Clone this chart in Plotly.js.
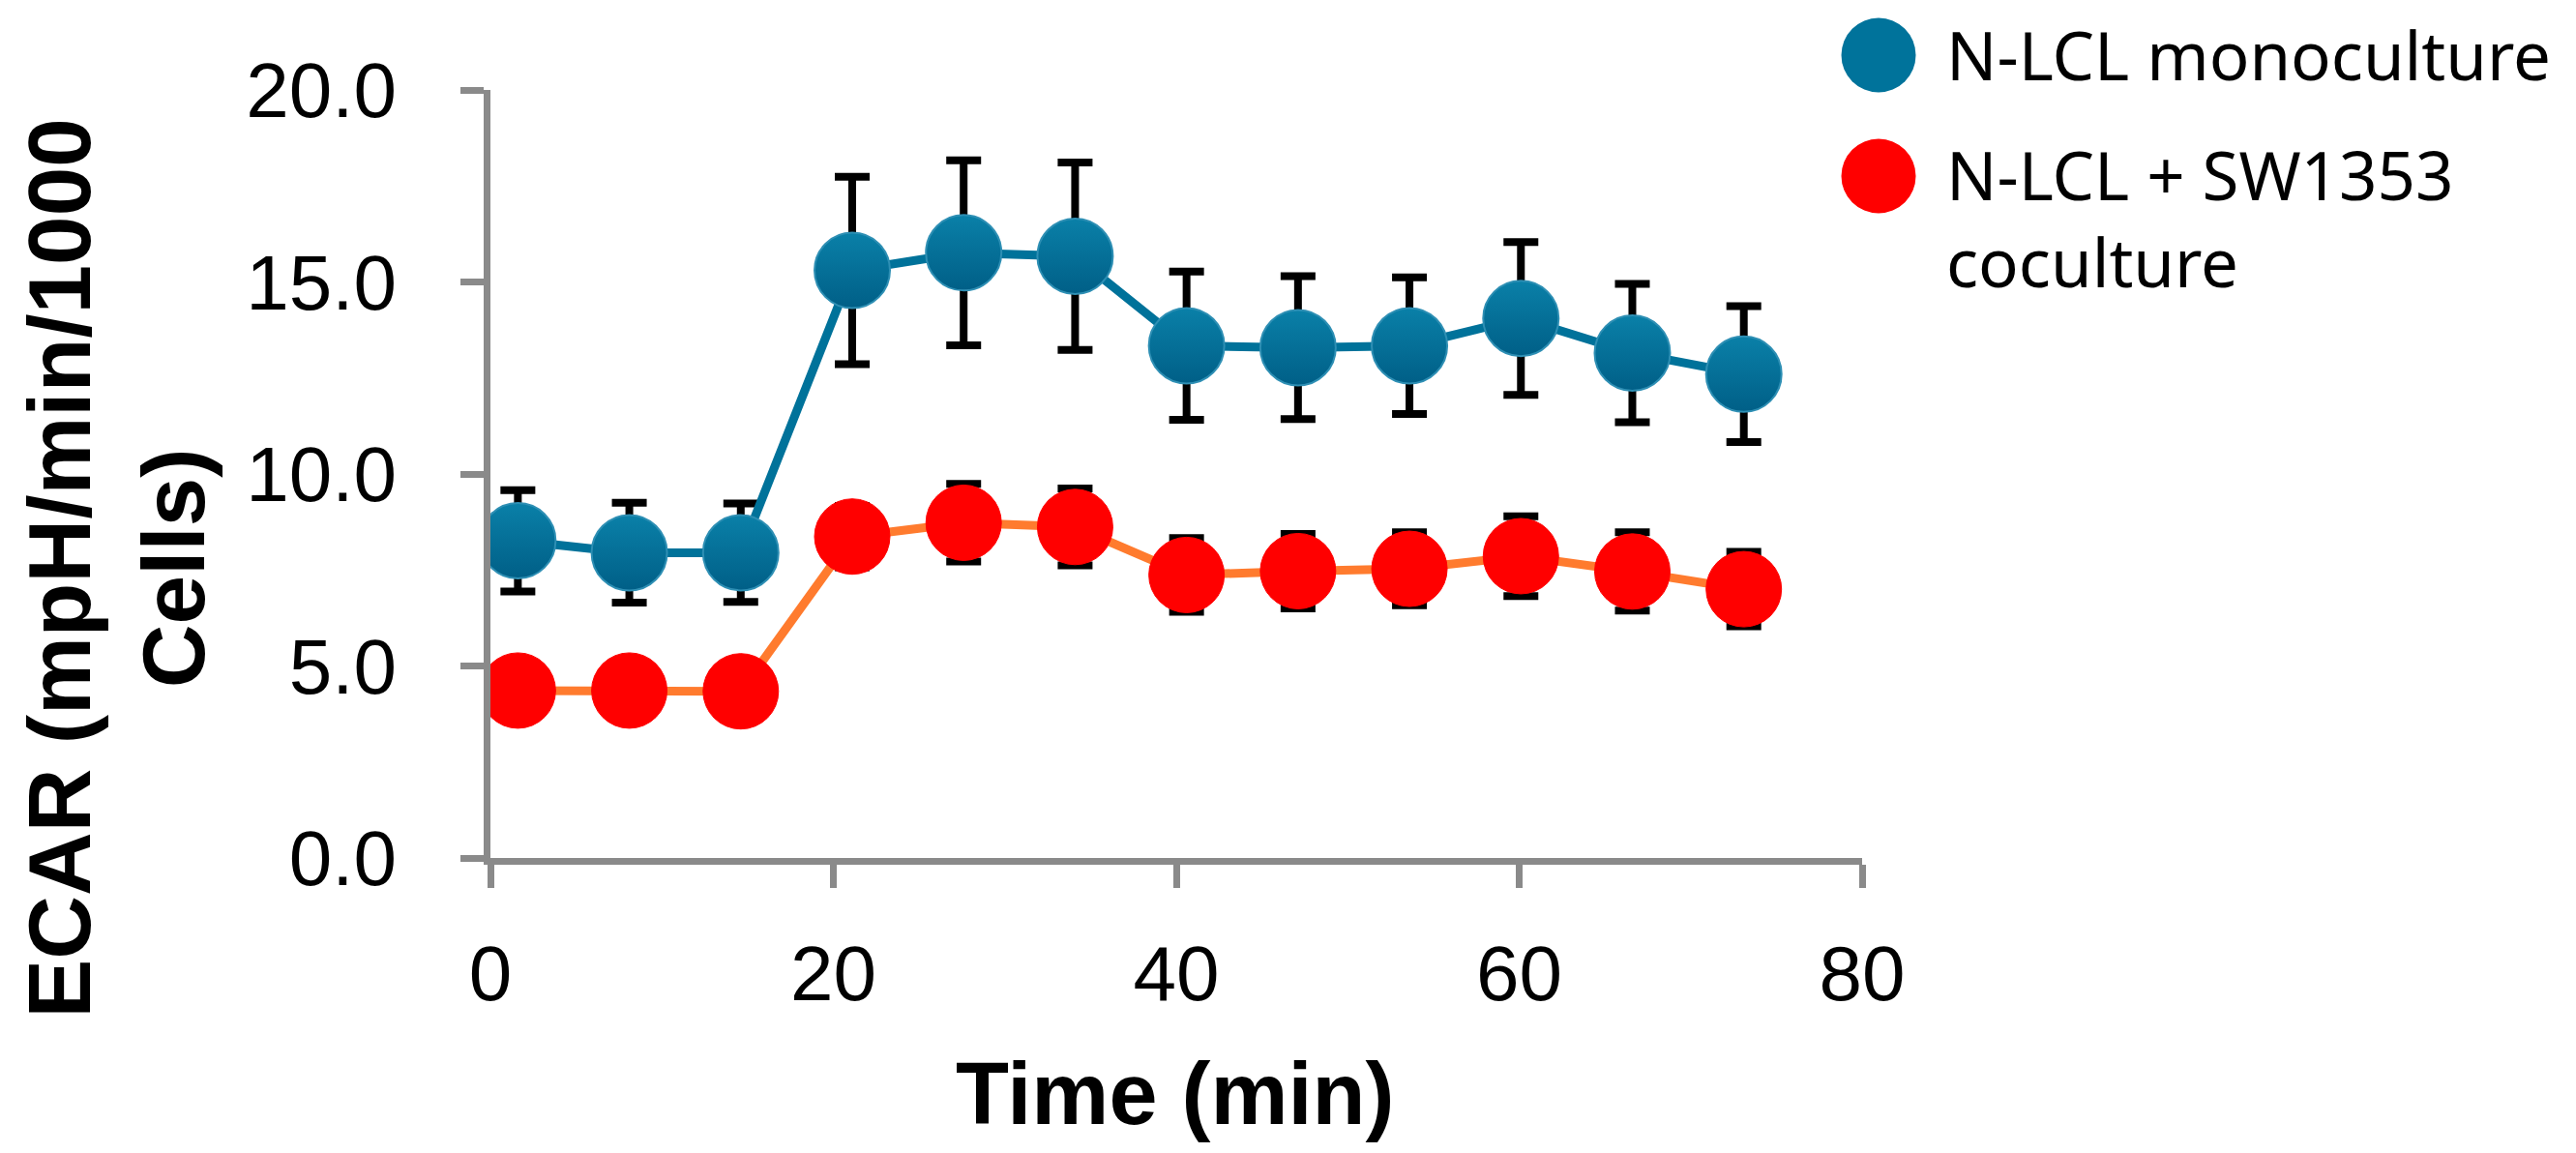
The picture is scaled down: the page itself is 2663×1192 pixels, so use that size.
<!DOCTYPE html>
<html>
<head>
<meta charset="utf-8">
<script src="https://cdn.plot.ly/plotly-3.0.1.min.js"></script>
<style>
  html, body { margin: 0; padding: 0; background: #fff; }
  #plot { width: 2663px; height: 1192px; }
</style>
</head>
<body>
<div id="plot"></div>
<script>
// values (ECAR, mpH/min/1000 cells)
var timeMin = [1.6, 8.1, 14.6, 21.1, 27.6, 34.1, 40.6, 47.1, 53.6, 60.1, 66.6, 73.1];
var monoMean = [8.26, 7.95, 7.95, 15.30, 15.76, 15.67, 13.34, 13.29, 13.34, 14.05, 13.15, 12.60];
var monoErr = [1.32, 1.30, 1.28, 2.44, 2.41, 2.44, 1.93, 1.86, 1.78, 1.99, 1.80, 1.77];
var coMean = [4.36, 4.36, 4.34, 8.37, 8.73, 8.62, 7.37, 7.47, 7.53, 7.86, 7.46, 7.00];
var coErr = [0.30, 0.30, 0.30, 0.80, 1.01, 1.00, 0.96, 0.97, 0.95, 1.04, 1.02, 0.97];

var seriesNames = ['N-LCL monoculture', 'N-LCL + SW1353<br>coculture'];
var yTicks = [0, 5, 10, 15, 20];
var xTicks = [0, 20, 40, 60, 80];

var blue = '#00729a';
var red = '#ff0000';
var orange = '#ff7b2e';
var axisGrey = '#8a8a8a';

function errBars(arr) {
  return {
    type: 'data',
    array: arr,
    visible: true,
    color: '#000000',
    thickness: 8,
    width: 18
  };
}

var plotData = [
  {
    x: timeMin,
    y: monoMean,
    name: seriesNames[0],
    mode: 'lines+markers',
    line: { color: blue, width: 9 },
    marker: {
      size: 78,
      color: '#0a80a8',
      gradient: { type: 'vertical', color: '#005f87' },
      line: { color: '#2e8fb4', width: 2 }
    },
    error_y: errBars(monoErr)
  },
  {
    x: timeMin,
    y: coMean,
    name: seriesNames[1].replace('<br>', ' '),
    mode: 'lines+markers',
    line: { color: orange, width: 9 },
    marker: { size: 78, color: red, line: { color: red, width: 1 } },
    error_y: errBars(coErr)
  }
];

// plot area in pixels: x 507..1925, y 93..887
var L = 507, R = 1925, T = 93, B = 887;
function px(xp) { return (xp - L) / (R - L); }
function py(yp) { return (B - yp) / (B - T); }

function legendDot(yPage, colour) {
  return {
    type: 'circle',
    xref: 'paper', yref: 'paper',
    xsizemode: 'pixel', ysizemode: 'pixel',
    xanchor: px(1942), yanchor: py(yPage),
    x0: -38.5, x1: 38.5, y0: -38.5, y1: 38.5,
    fillcolor: colour,
    line: { width: 0 }
  };
}

var legendFont = { family: 'Noto Sans, sans-serif', size: 69, color: '#000' };

var layout = {
  width: 2663,
  height: 1192,
  showlegend: false,
  paper_bgcolor: '#ffffff',
  plot_bgcolor: '#ffffff',
  margin: { l: L, r: 2663 - R, t: T, b: 1192 - B, pad: 0 },
  font: { family: 'Liberation Sans, Arial, sans-serif', color: '#000' },
  xaxis: {
    range: [0, 80],
    tickvals: xTicks,
    ticktext: xTicks.map(String),
    showgrid: false,
    zeroline: false,
    showline: true,
    linecolor: axisGrey,
    linewidth: 7,
    ticks: 'outside',
    ticklen: 24,
    tickwidth: 7,
    tickcolor: axisGrey,
    ticklabelstandoff: 20,
    tickfont: { family: 'Liberation Sans, Arial, sans-serif', size: 80, color: '#000' }
  },
  yaxis: {
    range: [0, 20],
    tickvals: yTicks,
    ticktext: yTicks.map(function (v) { return v.toFixed(1); }),
    showgrid: false,
    zeroline: false,
    showline: true,
    linecolor: axisGrey,
    linewidth: 7,
    ticks: 'outside',
    ticklen: 24,
    tickwidth: 7,
    tickcolor: axisGrey,
    ticklabelstandoff: 50,
    tickfont: { family: 'Liberation Sans, Arial, sans-serif', size: 80, color: '#000' }
  },
  shapes: [legendDot(57, '#00739b'), legendDot(182, red)],
  annotations: [
    {
      text: '<b>Time (min)</b>',
      xref: 'paper', yref: 'paper',
      x: px(1214), y: py(1130.5),
      xanchor: 'center', yanchor: 'middle',
      showarrow: false,
      font: { family: 'Liberation Sans, Arial, sans-serif', size: 90, color: '#000' }
    },
    {
      text: '<b>ECAR (mpH/min/1000<br>Cells)</b>',
      xref: 'paper', yref: 'paper',
      x: 0, y: py(588), xshift: 119.5 - L,
      xanchor: 'center', yanchor: 'middle',
      textangle: -90,
      align: 'center',
      showarrow: false,
      font: { family: 'Liberation Sans, Arial, sans-serif', size: 91, color: '#000' }
    },
    {
      text: seriesNames[0],
      xref: 'paper', yref: 'paper',
      x: px(2010), y: py(56),
      xanchor: 'left', yanchor: 'middle',
      showarrow: false, font: legendFont
    },
    {
      text: seriesNames[1],
      xref: 'paper', yref: 'paper',
      x: px(2010), y: py(225),
      xanchor: 'left', yanchor: 'middle',
      align: 'left',
      showarrow: false, font: legendFont
    }
  ]
};

Plotly.newPlot('plot', plotData, layout, { staticPlot: true, displayModeBar: false });
</script>
</body>
</html>
